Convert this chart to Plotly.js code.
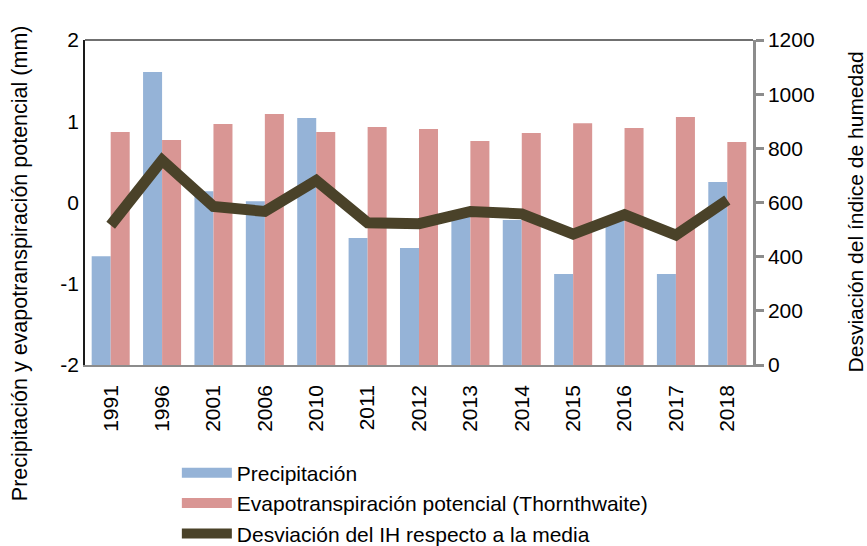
<!DOCTYPE html>
<html>
<head>
<meta charset="utf-8">
<script src="https://cdn.plot.ly/plotly-3.0.1.min.js"></script>
<style>
  html, body { margin: 0; padding: 0; background: #fff; }
  #chart { width: 867px; height: 546px; }
</style>
</head>
<body>
<div id="chart"></div>
<script>
// Years on the category axis
const years = ['1991', '1996', '2001', '2006', '2010', '2011', '2012', '2013', '2014', '2015', '2016', '2017', '2018'];

// Bars (mm) - drawn against the 0-1200 scale
const precipitacion = [402, 1082, 642, 605, 912, 469, 432, 552, 535, 336, 540, 336, 676];
const evapotranspiracion = [860, 831, 890, 927, 860, 879, 871, 827, 857, 893, 875, 916, 823];

// Line - drawn against the -2..2 scale
const desviacionIH = [-0.28, 0.52, -0.05, -0.11, 0.27, -0.25, -0.26, -0.11, -0.14, -0.39, -0.15, -0.40, 0.03];

// Left axis ticks use a plain hyphen like the original
const leftTicks = [-2, -1, 0, 1, 2];
const leftTickText = ['-2', '-1', '0', '1', '2'];

const FONT = 'Liberation Sans, Arial, sans-serif';
const BLUE = '#95b3d7';
const RED = '#d99694';
const OLIVE = '#4a4229';

const precipTrace = {
    x: years,
    y: precipitacion,
    type: 'bar',
    name: 'Precipitación',
    showlegend: false,
    marker: { color: BLUE },
    yaxis: 'y'
};

const evapTrace = {
    x: years,
    y: evapotranspiracion,
    type: 'bar',
    name: 'Evapotranspiración potencial (Thornthwaite)',
    showlegend: false,
    marker: { color: RED },
    yaxis: 'y'
};

const ihTrace = {
    x: years,
    y: desviacionIH,
    type: 'scatter',
    mode: 'lines',
    name: 'Desviación del IH respecto a la media',
    line: { color: OLIVE, width: 11 },
    yaxis: 'y2'
};

// legend-only entries so the bar swatches are wide blocks like the original
function legendSwatch(name, color) {
    return {
        x: [null],
        y: [null],
        type: 'scatter',
        mode: 'lines',
        name: name,
        line: { color: color, width: 11 },
        hoverinfo: 'skip',
        yaxis: 'y2'
    };
}

const layout = {
    width: 867,
    height: 546,
    margin: { l: 85, r: 114, t: 40, b: 181, autoexpand: false },
    paper_bgcolor: '#ffffff',
    plot_bgcolor: '#ffffff',
    font: { family: FONT, size: 21, color: '#000' },
    barmode: 'group',
    bargap: 0.26,
    bargroupgap: 0,
    showlegend: true,
    xaxis: {
        type: 'category',
        tickangle: -90,
        showline: true,
        linecolor: '#8c8c8c',
        linewidth: 1.5,
        ticks: '',
        ticklabelstandoff: 10,
        showgrid: false,
        tickfont: { size: 21 }
    },
    yaxis: {
        range: [0, 1200],
        dtick: 200,
        side: 'right',
        showline: true,
        linecolor: '#8c8c8c',
        linewidth: 2.5,
        ticks: 'outside',
        ticklen: 8,
        tickwidth: 2.5,
        tickcolor: '#8c8c8c',
        showgrid: false,
        zeroline: false,
        tickfont: { size: 21 }
    },
    yaxis2: {
        range: [-2, 2],
        tickvals: leftTicks,
        ticktext: leftTickText,
        side: 'left',
        overlaying: 'y',
        showline: true,
        linecolor: '#1a1a1a',
        linewidth: 1.5,
        ticks: '',
        showgrid: false,
        zeroline: false,
        tickfont: { size: 21 }
    },
    annotations: [
        // left axis title, sits lower than the plot centre in the original
        { text: 'Precipitación y evapotranspiración potencial (mm)',
          xref: 'paper', yref: 'paper', x: -0.097, y: 0.314,
          xanchor: 'center', yanchor: 'middle',
          textangle: -90, showarrow: false, font: { size: 21.5 } },
        // right axis title
        { text: 'Desviación del índice de humedad',
          xref: 'paper', yref: 'paper', x: 1.153, y: 0.47,
          xanchor: 'center', yanchor: 'middle',
          textangle: -90, showarrow: false, font: { size: 21 } }
    ],
    shapes: [
        // top frame line
        { type: 'line', xref: 'paper', yref: 'paper', x0: 0, x1: 1, y0: 1, y1: 1,
          line: { color: '#404040', width: 1.5 } }
    ],
    legend: {
        orientation: 'v',
        xref: 'paper',
        yref: 'container',
        x: 0.1375,
        y: 0.171,
        xanchor: 'left',
        yanchor: 'top',
        font: { size: 21 },
        itemwidth: 50,
        bgcolor: 'rgba(0,0,0,0)'
    }
};

const config = { displayModeBar: false, responsive: false };

Plotly.newPlot('chart', [
    precipTrace,
    evapTrace,
    legendSwatch('Precipitación', BLUE),
    legendSwatch('Evapotranspiración potencial (Thornthwaite)', RED),
    ihTrace
], layout, config);
</script>
</body>
</html>
